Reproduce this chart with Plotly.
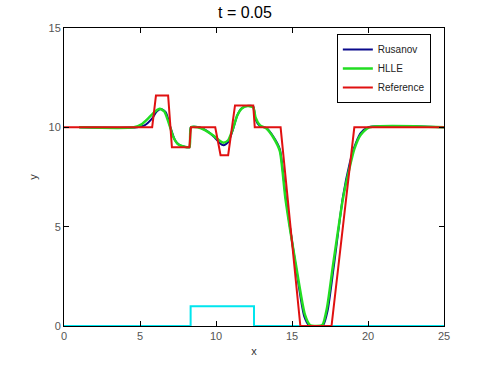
import plotly.graph_objects as go

# Reference solution
ref_x = [0, 5.8, 6.05, 6.85, 7.1, 8.25, 8.35, 9.95, 10.3, 10.8, 11.25, 12.45, 12.55, 14.25, 15.55, 17.6, 19.1, 25]
ref_y = [10, 10, 11.6, 11.6, 9.0, 9.0, 10.0, 10.0, 8.6, 8.6, 11.1, 11.1, 10.0, 10.0, 0.0, 0.0, 10.0, 10.0]

# HLLE solution
hlle_x = [1, 4.6, 5.1, 5.6, 6.0, 6.3, 6.6, 6.9, 7.2, 7.5, 7.9, 8.25, 8.35, 8.8, 9.3, 9.8, 10.2, 10.5,
          10.8, 11.1, 11.4, 11.7, 12.1, 12.45, 12.6, 12.9, 13.3, 13.8, 14.2, 14.57, 15.26, 15.85, 16.2,
          16.6, 17.0, 17.3, 17.7, 18.35, 18.8, 19.1, 19.5, 20.1, 25]
hlle_y = [10, 10, 10.15, 10.5, 10.8, 10.93, 10.8, 10.2, 9.5, 9.15, 9.03, 9.0, 10.0, 10.0, 9.85, 9.6, 9.35, 9.23,
          9.35, 9.9, 10.6, 10.95, 11.07, 11.0, 10.5, 10.1, 9.95, 9.45, 8.8, 6.4, 3.07, 0.57, 0.03,
          0.0, 0.05, 0.9, 3.07, 6.4, 8.0, 8.9, 9.6, 10.0, 10.0]

# Rusanov solution
rus_x = [1, 4.8, 5.3, 5.8, 6.1, 6.4, 6.7, 7.0, 7.3, 7.6, 7.95, 8.25, 8.35, 8.9, 9.4, 9.9, 10.25, 10.5,
         10.8, 11.1, 11.4, 11.7, 12.1, 12.45, 12.6, 12.9, 13.3, 13.8, 14.2, 14.6, 15.25, 15.8, 16.15,
         16.6, 17.05, 17.35, 17.75, 18.35, 18.8, 19.1, 19.5, 20.0, 25]
rus_y = [10, 10, 10.1, 10.45, 10.8, 10.92, 10.75, 10.0, 9.35, 9.1, 9.02, 9.0, 10.0, 10.0, 9.82, 9.5, 9.2, 9.1,
         9.25, 9.85, 10.6, 10.97, 11.08, 11.05, 10.4, 10.05, 9.97, 9.5, 8.9, 6.4, 3.0, 0.5, 0.02,
         0.0, 0.04, 0.8, 3.0, 6.5, 8.2, 9.0, 9.7, 10.0, 10.0]

# Bathymetry
bed_x = [0, 8.33, 8.33, 12.5, 12.5, 25]
bed_y = [0, 0, 1, 1, 0, 0]

x_ticks = [0, 5, 10, 15, 20, 25]
y_ticks = [0, 5, 10, 15]

fig = go.Figure()
fig.add_trace(go.Scatter(x=bed_x, y=bed_y, mode="lines", line=dict(color="#00E5EE", width=2),
                         showlegend=False))
fig.add_trace(go.Scatter(x=rus_x, y=rus_y, mode="lines", name="Rusanov",
                         line=dict(color="#0A0A8C", width=2, shape="spline", smoothing=0.6)))
fig.add_trace(go.Scatter(x=hlle_x, y=hlle_y, mode="lines", name="HLLE",
                         line=dict(color="#22DD22", width=2.5, shape="spline", smoothing=0.6)))
fig.add_trace(go.Scatter(x=ref_x, y=ref_y, mode="lines", name="Reference",
                         line=dict(color="#E01010", width=2)))

axis_common = dict(showline=True, linecolor="black", linewidth=1, mirror="ticks",
                   ticks="inside", ticklen=5, tickcolor="black", showgrid=False, zeroline=False,
                   tickfont=dict(family="Liberation Sans, Arial, sans-serif", size=11, color="#555555"))

fig.update_layout(
    width=490, height=368,
    margin=dict(l=64, r=46, t=28, b=40),
    paper_bgcolor="white", plot_bgcolor="white",
    title=dict(text="t = 0.05", x=0.5, xanchor="center", y=0.965, yanchor="middle",
               font=dict(family="Liberation Sans, Arial, sans-serif", size=16, color="black")),
    xaxis=dict(range=[0, 25], tickvals=x_ticks, title=dict(text="x", standoff=6,
               font=dict(family="Liberation Sans, Arial, sans-serif", size=11, color="#333333")),
               **axis_common),
    yaxis=dict(range=[0, 15], tickvals=y_ticks, title=dict(text="y", standoff=8,
               font=dict(family="Liberation Sans, Arial, sans-serif", size=11, color="#333333")),
               **axis_common),
    legend=dict(x=0.718, y=0.98, xanchor="left", yanchor="top", bgcolor="white",
                bordercolor="black", borderwidth=1,
                font=dict(family="Liberation Sans, Arial, sans-serif", size=10, color="#222222"),
                tracegroupgap=0, itemwidth=30),
    showlegend=True,
)

fig.write_html("out.html", config={"displayModeBar": False},
               post_script="document.body.style.margin='0';document.body.style.padding='0';")
